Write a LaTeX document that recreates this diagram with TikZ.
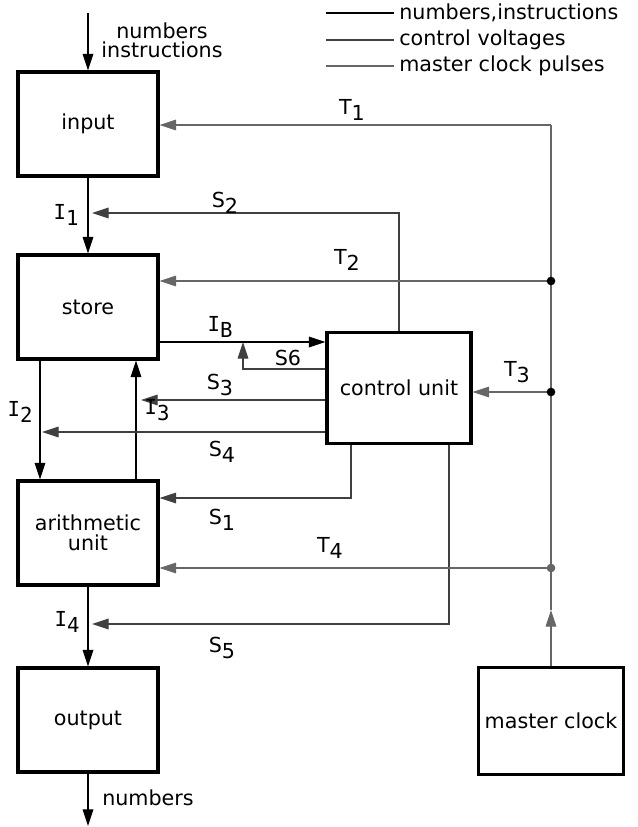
\documentclass[tikz,border=0pt]{standalone}
\usepackage{fontspec}
\setmainfont{DejaVu Sans}
\newfontfamily\serifI{DejaVu Sans Mono}
\usetikzlibrary{arrows.meta}
\newcommand{\sig}[2]{#1\raisebox{-0.55ex}{#2}}
\begin{document}
\begin{tikzpicture}[x=0.75pt,y=-0.75pt,
  font=\fontsize{15.5}{18}\selectfont,
  unitbox/.style={draw, line width=2.3pt, align=center, minimum width=105pt, minimum height=78pt},
  dline/.style={black, line width=0.9pt},
  cline/.style={black!75, line width=0.8pt},
  kline/.style={black!60, line width=0.8pt},
  tip/.style={-{Triangle[length=12.5pt,width=8pt]}},
  dot/.style={circle, fill, inner sep=0pt, minimum size=6.5pt}]
\useasboundingbox (0,0) rectangle (637,827);
\node[unitbox] (input) at (88,124) {input};
\node[unitbox] (store) at (88,307) {store};
\node[unitbox] (arith) at (88,533) {arithmetic\\[-3pt]unit};
\node[unitbox] (output) at (88,720) {output};
\node[unitbox, minimum width=108pt, minimum height=83pt] (ctrl) at (399,388) {control unit};
\node[unitbox, minimum width=109pt, minimum height=80pt, inner sep=1pt] (clock) at (551,721) {master clock};
\coordinate (in0) at (88,13);
\coordinate (out0) at (88,826);
\coordinate (b1) at (551,125);
\coordinate (b2) at (551,281);
\coordinate (b3) at (551,392);
\coordinate (b4) at (551,568);
\coordinate (bm) at (551,610);
\coordinate (ib) at (200,342);
\coordinate (s2) at (92,213);
\coordinate (s6) at (243,369);
\coordinate (s3) at (141,400);
\coordinate (s4) at (42,432);
\coordinate (s1) at (351,498);
\coordinate (s5) at (449,624);
\coordinate (s5e) at (92,624);
\coordinate (i2) at (40,420);
\coordinate (i3) at (136,420);
\draw[dline, tip] (in0) -- (input.north);
\draw[dline, tip] (input) -- (store);
\draw[dline, tip] (i2 |- store.south) -- (i2 |- arith.north);
\draw[dline, tip] (i3 |- arith.north) -- (i3 |- store.south);
\draw[dline, tip] (ib -| store.east) -- (ib -| ctrl.west);
\draw[dline, tip] (arith) -- (output);
\draw[dline, tip] (output.south) -- (out0);
\draw[cline, tip] (ctrl.north) |- (s2);
\draw[cline, tip] (s6 -| ctrl.west) -- (s6) -- (s6 |- ib);
\draw[cline, tip] (s3 -| ctrl.west) -- (s3);
\draw[cline, tip] (s4 -| ctrl.west) -- (s4);
\draw[cline, tip] (s1 |- ctrl.south) |- (s1 -| arith.east);
\draw[cline, tip] (s5 |- ctrl.south) -- (s5) -- (s5e);
\draw[kline] (b1) -- (b4);
\draw[kline, tip] (clock.north) -- (bm);
\draw[kline] (bm) -- (b4);
\draw[kline, tip] (b1) -- (b1 -| input.east);
\draw[kline, tip] (b2) -- (b2 -| store.east);
\draw[kline, tip] (b3) -- (b3 -| ctrl.east);
\draw[kline, tip] (b4) -- (b4 -| arith.east);
\node[dot] at (b2) {};
\node[dot] at (b3) {};
\node[dot, black!60] at (b4) {};
\node[align=center] (lin) at (162,40) {numbers\\[-4pt]instructions};
\node (lout) at (148,798) {numbers};
\node (li1) at (66,215) {\sig{\serifI I}{1}};
\node (li2) at (20,412) {\sig{\serifI I}{2}};
\node (li3) at (157,410) {\sig{\serifI I}{3}};
\node (li4) at (67,622) {\sig{\serifI I}{4}};
\node (lib) at (220,327) {\sig{\serifI I}{B}};
\node (ls1) at (222,520) {\sig{S}{1}};
\node (ls2) at (225,203) {\sig{S}{2}};
\node (ls3) at (220,385) {\sig{S}{3}};
\node (ls4) at (222,452) {\sig{S}{4}};
\node (ls5) at (222,648) {\sig{S}{5}};
\node (ls6) at (288,358) {S6};
\node (lt1) at (352,110) {\sig{T}{1}};
\node (lt2) at (347,260) {\sig{T}{2}};
\node (lt3) at (517,372) {\sig{T}{3}};
\node (lt4) at (330,548) {\sig{T}{4}};
\coordinate (k1) at (326,13);
\coordinate (k2) at (326,40);
\coordinate (k3) at (326,66);
\draw[dline, line width=1.3pt] (k1) -- ++(68,0) node[right, black] (leg1) {numbers,instructions};
\draw[cline, line width=1.3pt] (k2) -- ++(68,0) node[right, black] (leg2) {control voltages};
\draw[kline, line width=1.3pt] (k3) -- ++(68,0) node[right, black] (leg3) {master clock pulses};
\end{tikzpicture}
\end{document}
